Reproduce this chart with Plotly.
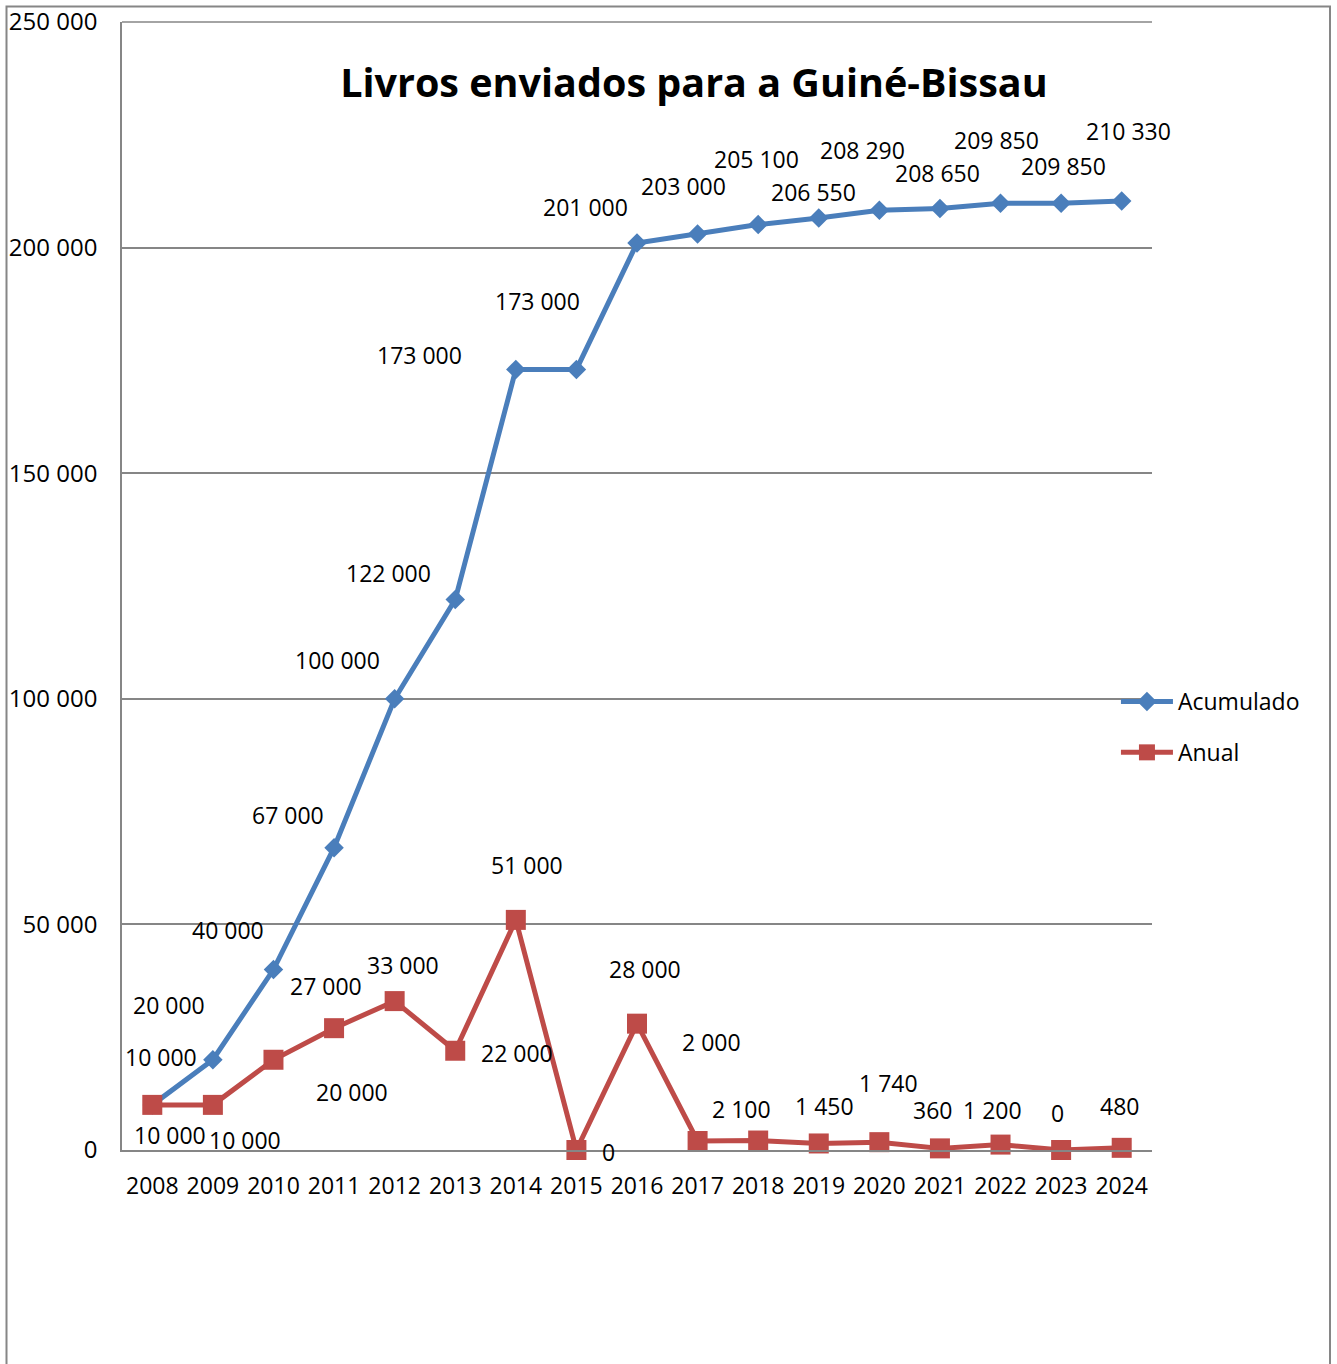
import plotly.graph_objects as go

years = [str(y) for y in range(2008, 2025)]
acumulado = [10000, 20000, 40000, 67000, 100000, 122000, 173000, 173000, 201000,
             203000, 205100, 206550, 208290, 208650, 209850, 209850, 210330]
anual = [10000, 10000, 20000, 27000, 33000, 22000, 51000, 0, 28000,
         2000, 2100, 1450, 1740, 360, 1200, 0, 480]

# label offsets (pixels, dx right, dy down) relative to each point
acum_off = [(9, -48), (-44, -55), (-45, -40), (-46, -33), (-57, -39), (-67, -27),
            (-96, -14), (-39, -68), (-52, -36), (-14, -48), (-2, -66), (-5, -26),
            (-17, -60), (-2, -36), (-4, -63), (2, -37), (7, -70)]
anual_off = [(18, 30), (32, 35), (79, 32), (-8, -42), (8, -36), (62, 2), (11, -55),
             (32, 2), (8, -55), (14, -99), (-17, -32), (6, -37), (9, -59), (-7, -38),
             (-8, -35), (-4, -37), (-2, -42)]

FONT = "Open Sans"
BLUE = "#4A7EBB"
RED = "#BE4B48"
GRID = "#868686"


def fmt(v):
    return f"{v:,}".replace(",", " ")


fig = go.Figure()
fig.add_trace(go.Scatter(
    x=years, y=acumulado, name="Acumulado", mode="lines+markers",
    line=dict(color=BLUE, width=5),
    marker=dict(symbol="diamond", size=15, color=BLUE),
    cliponaxis=False, legendgroup="a"))
fig.add_trace(go.Scatter(
    x=years, y=anual, name="Anual", mode="lines+markers",
    line=dict(color=RED, width=5),
    marker=dict(symbol="square", size=20, color=RED),
    cliponaxis=False, legendgroup="b"))

# category axes: annotation x is the category's serial number
for i, (v, (dx, dy)) in enumerate(zip(acumulado, acum_off)):
    fig.add_annotation(x=i, y=v, xref="x", yref="y", text=fmt(v), showarrow=False,
                       xshift=dx, yshift=-dy, font=dict(family=FONT, size=23, color="black"))
for i, (v, (dx, dy)) in enumerate(zip(anual, anual_off)):
    fig.add_annotation(x=i, y=v, xref="x", yref="y", text=fmt(v), showarrow=False,
                       xshift=dx, yshift=-dy, font=dict(family=FONT, size=23, color="black"))

fig.update_layout(
    width=1337, height=1364,
    margin=dict(l=122, r=185, t=22, b=214, autoexpand=False),
    paper_bgcolor="white", plot_bgcolor="white",
    separators=", ",
    font=dict(family=FONT, size=23, color="black"),
    title=dict(text="<b>Livros enviados para a Guiné-Bissau</b>",
               x=0.519, xref="container", xanchor="center",
               y=1 - 83 / 1364, yref="container", yanchor="middle",
               font=dict(family=FONT, size=39.5, color="black")),
    showlegend=True,
    legend=dict(x=0.965, xanchor="left", y=0.375, yanchor="middle",
                font=dict(family=FONT, size=23, color="black"),
                tracegroupgap=18, bgcolor="rgba(0,0,0,0)", itemwidth=52),
    shapes=[dict(type="rect", xref="paper", yref="paper",
                 x0=(6.5 - 122) / 1030, x1=(1330 - 122) / 1030,
                 y0=(1150 - 1380) / 1128, y1=(1150 - 6.5) / 1128,
                 line=dict(color=GRID, width=2), fillcolor="rgba(0,0,0,0)", layer="below"),
            dict(type="line", xref="paper", yref="paper", x0=0, x1=1, y0=1, y1=1,
                 line=dict(color=GRID, width=1.5), layer="below")],
)
fig.update_xaxes(type="category", range=[-0.5, 16.5], showgrid=False, automargin=False,
                 showline=True, linecolor=GRID, linewidth=1.5,
                 ticks="outside", ticklen=0, ticklabelstandoff=15,
                 tickfont=dict(family=FONT, size=23, color="black"), zeroline=False)
fig.update_yaxes(range=[0, 250000], dtick=50000, tickformat=",d", automargin=False,
                 showgrid=True, gridcolor=GRID, gridwidth=1.5,
                 showline=True, linecolor=GRID, linewidth=1.5,
                 ticks="outside", ticklen=0, ticklabelstandoff=18,
                 tickfont=dict(family=FONT, size=24, color="black"), zeroline=False)

fig.write_html("out.html", post_script="document.body.style.margin='0';",
               config={"displayModeBar": False})
